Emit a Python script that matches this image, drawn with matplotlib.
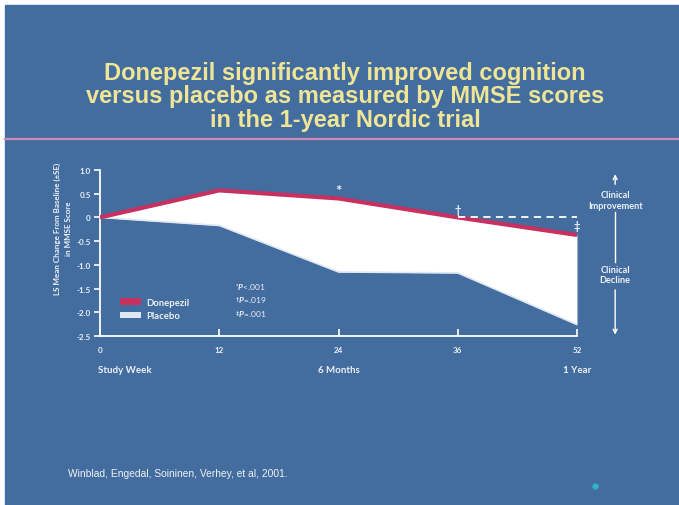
import matplotlib.pyplot as plt
from matplotlib.patches import Patch, Rectangle
from matplotlib.lines import Line2D

# MMSE change from baseline, Nordic 1-year study
weeks = ["0", "12", "24", "36", "52"]
donepezil = [0.0, 0.57, 0.40, 0.0, -0.37]
placebo = [0.0, -0.17, -1.15, -1.17, -2.26]

y_ticks = [1.0, 0.5, 0.0, -0.5, -1.0, -1.5, -2.0, -2.5]
y_tick_labels = ["1.0", "0.5", "0", "-0.5", "-1.0", "-1.5", "-2.0", "-2.5"]

# significance marks: (week label, y of the mark, symbol, size)
sig_marks = [("24", 0.55, "*", 11), ("36", 0.16, "\u2020", 8), ("52", -0.18, "\u2021", 8)]
p_values = [r"$^{*}$$\mathit{P}$<.001", r"$^{\dagger}$$\mathit{P}$=.019", r"$^{\ddagger}$$\mathit{P}$=.001"]

BG = "#436c9f"
PINK = "#c8305f"
PLACEBO = "#dfe7f2"
TXT = "#eef2f7"
TITLE = "#efe596"

plt.rcParams["font.family"] = ["Lato", "DejaVu Sans"]
plt.rcParams["mathtext.fontset"] = "custom"
plt.rcParams["mathtext.rm"] = "Lato:bold"
plt.rcParams["mathtext.it"] = "Lato:italic:bold"
plt.rcParams["mathtext.bf"] = "Lato:bold"

W, H = 679, 506
fig = plt.figure(figsize=(W / 100, H / 100), dpi=100, facecolor="white")
fig.patches.append(Rectangle((5 / W, 0), 1, 1 - 6 / H, transform=fig.transFigure,
                             color=BG, zorder=-5))

fig.text(345 / W, 1 - 97 / H,
         "Donepezil significantly improved cognition\n"
         "versus placebo as measured by MMSE scores\n"
         "in the 1-year Nordic trial",
         ha="center", va="center", fontsize=17, fontweight="bold", color=TITLE,
         family=["Liberation Sans", "DejaVu Sans"], linespacing=1.05)
fig.add_artist(Line2D([5 / W, 1], [1 - 140 / H] * 2, color="#d08ab8", lw=1.6))

ax = fig.add_axes([100 / W, 1 - 337 / H, 477 / W, 166 / H])
ax.set_facecolor("none")
ax.set_zorder(2)
x = list(range(len(weeks)))

ax.fill_between(x, placebo, donepezil, color="white", lw=0, zorder=2)
ax.plot(x, placebo, color=PLACEBO, lw=1.2, zorder=3)
ax.plot(x, donepezil, color=PINK, lw=3, zorder=4, solid_capstyle="butt")
ax.hlines(0, weeks.index("36"), len(weeks) - 1, colors="white", lw=1.3,
          linestyles=(0, (4, 3)), zorder=5)

for wk, yv, sym, fs in sig_marks:
    ax.text(weeks.index(wk), yv, sym, ha="center", va="center", fontsize=fs,
            fontweight="bold", color=TXT, zorder=6)

ax.set_xlim(0, len(weeks) - 1)
ax.set_ylim(-2.5, 1.0)
ax.set_xticks(x)
ax.set_xticklabels(weeks)
ax.set_yticks(y_ticks)
ax.set_yticklabels(y_tick_labels)
for s in ["top", "right"]:
    ax.spines[s].set_visible(False)
for s in ["left", "bottom"]:
    ax.spines[s].set_color("white")
    ax.spines[s].set_linewidth(1.3)
ax.tick_params(axis="y", direction="out", length=4, width=1.2, color="white",
               labelsize=5.8, labelcolor=TXT, pad=2.5)
ax.tick_params(axis="x", direction="in", length=5, width=1.2, color="white",
               labelsize=5.8, labelcolor=TXT, pad=7.5)
for lab in ax.get_xticklabels() + ax.get_yticklabels():
    lab.set_fontweight("bold")

ax.set_ylabel("LS Mean Change From Baseline (\u00b1SE)\nin MMSE Score",
              fontsize=5.8, fontweight="bold", color=TXT, linespacing=1.7)
ax.yaxis.set_label_coords(-0.058, 0.65)

trans = ax.get_xaxis_transform()
ax.text(-0.02, -0.2, "Study Week", transform=trans, ha="left", va="center",
        fontsize=7, fontweight="bold", color=TXT)
ax.text(weeks.index("24"), -0.2, "6 Months", transform=trans, ha="center",
        va="center", fontsize=7, fontweight="bold", color=TXT)
ax.text(len(weeks) - 1, -0.2, "1 Year", transform=trans, ha="center", va="center",
        fontsize=7, fontweight="bold", color=TXT)

handles = [Patch(facecolor=PINK, edgecolor="none"), Patch(facecolor=PLACEBO, edgecolor="none")]
leg = ax.legend(handles, ["Donepezil", "Placebo"], loc="lower left",
                bbox_to_anchor=(0.033, 0.065), frameon=False, fontsize=6.8,
                handlelength=2.2, handleheight=0.7, labelspacing=0.5,
                handletextpad=0.5, borderpad=0)
for t in leg.get_texts():
    t.set_color(TXT)
    t.set_fontweight("bold")

for i, p in enumerate(p_values):
    ax.text(1.13, -1.45 - i * 0.29, p, ha="left", va="center", fontsize=6,
            color=TXT)

# clinical direction arrows on the right
xa = 4.32
arrow = dict(arrowstyle="->", color="white", lw=1, mutation_scale=7)
ax.annotate("", xy=(xa, 0.97), xytext=(xa, 0.64), arrowprops=arrow,
            annotation_clip=False)
ax.annotate("", xy=(xa, -2.53), xytext=(xa, -1.47), arrowprops=arrow,
            annotation_clip=False)
ax.plot([xa, xa], [0.11, -0.94], color="white", lw=1, clip_on=False)
ax.text(xa, 0.37, "Clinical\nImprovement", ha="center", va="center", fontsize=6.6,
        fontweight="bold", color=TXT, linespacing=1.2, clip_on=False)
ax.text(xa, -1.2, "Clinical\nDecline", ha="center", va="center", fontsize=6.6,
        fontweight="bold", color=TXT, linespacing=1.2, clip_on=False)

fig.text(68 / W, 1 - 474 / H, "Winblad, Engedal, Soininen, Verhey, et al, 2001.",
         ha="left", va="center", fontsize=7.4, color=TXT,
         family=["Liberation Sans Narrow", "Liberation Sans", "DejaVu Sans"])
fig.add_artist(Line2D([595 / W], [1 - 487 / H], marker="o", ms=3.5, color="#2fb3c9",
                      lw=0))

fig.savefig("out.png", dpi=100, facecolor=fig.get_facecolor())
